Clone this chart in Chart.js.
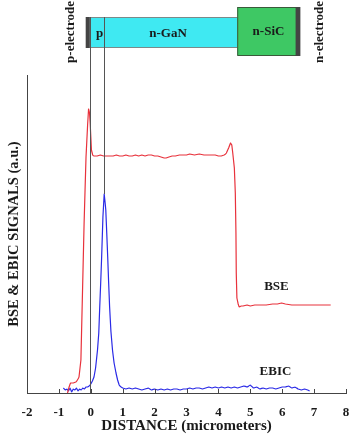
<!DOCTYPE html>
<html>
<head>
<meta charset="utf-8">
<script src="https://cdn.jsdelivr.net/npm/chart.js@4.4.0/dist/chart.umd.min.js"></script>
<style>
  html, body { margin: 0; padding: 0; background: #fff; }
  #chart { display: block; }
</style>
</head>
<body>
<canvas id="chart" width="350" height="435"></canvas>
<script>
// ── data (x in micrometers, y in arbitrary units) ──
const bseX = [-0.73, -0.68, -0.63, -0.55, -0.47, -0.42, -0.37, -0.31, -0.21, -0.15, -0.10, -0.07, -0.04, -0.02,
  0.02, 0.06, 0.10, 0.2, 0.3, 0.4, 0.5, 0.6, 0.7, 0.8, 0.9, 1.0, 1.1, 1.2, 1.3, 1.4, 1.5, 1.6, 1.7, 1.8, 1.9,
  2.0, 2.1, 2.2, 2.3, 2.36, 2.45, 2.55, 2.65, 2.78, 2.9, 3.0, 3.1, 3.25, 3.4, 3.55, 3.67, 3.8, 3.9, 4.0, 4.09,
  4.18, 4.25, 4.32, 4.38, 4.42, 4.45, 4.5, 4.53, 4.55, 4.56, 4.58, 4.62, 4.66, 4.72, 4.77, 4.9, 5.0, 5.14, 5.3,
  5.5, 5.7, 5.85, 5.98, 6.1, 6.3, 6.5, 6.7, 6.9, 7.1, 7.3, 7.52];
const bseY = [0, 6, 10, 10, 11, 13, 16, 33, 170, 236, 268, 284, 280, 270,
  243, 238, 237, 237, 238, 237, 237, 237, 237, 238, 237, 237, 238, 237, 237, 238, 237, 238, 237, 238, 238,
  237, 237, 236, 235, 235, 236, 237, 237, 238, 238, 238, 239, 238, 239, 238, 238, 238, 238, 237, 237,
  238, 240, 245, 250, 248, 240, 225, 200, 160, 120, 95, 89, 86, 87, 87, 88, 87, 88, 88,
  88, 89, 89, 90, 89, 88, 88, 88, 88, 88, 88, 88];

const ebicX = [-0.86, -0.8, -0.75, -0.7, -0.65, -0.6, -0.55, -0.5, -0.45, -0.4, -0.35, -0.3, -0.25, -0.2, -0.15,
  -0.1, -0.05, 0, 0.05, 0.1, 0.15, 0.21, 0.25, 0.28, 0.31, 0.34, 0.38, 0.42, 0.45, 0.47, 0.5, 0.53, 0.56, 0.59,
  0.63, 0.68, 0.73, 0.79, 0.84, 0.89, 0.95, 1.0,
  1.1, 1.2, 1.3, 1.4, 1.5, 1.6, 1.7, 1.8, 1.9, 2.0, 2.1, 2.2, 2.3, 2.4, 2.5, 2.6, 2.7, 2.8, 2.9, 3.0,
  3.1, 3.2, 3.3, 3.4, 3.5, 3.6, 3.7, 3.8, 3.9, 4.0, 4.1, 4.2, 4.3, 4.4, 4.5, 4.6, 4.7, 4.8, 4.9, 5.0,
  5.1, 5.2, 5.3, 5.4, 5.5, 5.6, 5.7, 5.8, 5.9, 6.0, 6.1, 6.2, 6.3, 6.4, 6.5, 6.6, 6.7, 6.8, 6.86];
const ebicY = [5, 3, 4, 2, 5, 1, 4, 3, 5, 2, 4, 3, 5, 4, 6,
  6, 7, 9, 12, 16, 25, 43, 60, 86, 110, 136, 176, 199, 190, 183, 160, 136, 110, 86,
  62, 43, 30, 20, 13, 8, 6, 5,
  4, 5, 4, 5, 4, 3, 4, 5, 3, 4, 3, 4, 3, 4, 3, 4, 4, 3, 4, 4,
  5, 4, 5, 5, 4, 5, 6, 5, 6, 5, 6, 5, 6, 5, 6, 5, 6, 7, 6, 8,
  5, 6, 4, 5, 4, 5, 5, 4, 5, 6, 6, 7, 5, 6, 4, 3, 4, 3, 2];

const xTicks = [-2, -1, 0, 1, 2, 3, 4, 5, 6, 7, 8];

// device layers drawn above the plot
const layerNames = ['p', 'n-GaN', 'n-SiC'];

const FONT = '"Liberation Serif", "Times New Roman", serif';

// ── overlay: inward ticks, device sketch, junction lines, curve labels ──
const overlay = {
  id: 'overlay',
  afterDraw(chart) {
    const { ctx, chartArea } = chart;
    const xs = chart.scales.x, ys = chart.scales.y;
    const X = v => xs.getPixelForValue(v);
    const Y = v => ys.getPixelForValue(v);
    ctx.save();

    // inward tick marks
    ctx.strokeStyle = '#444';
    ctx.lineWidth = 1;
    xTicks.forEach(t => {
      const px = Math.round(X(t)) + 0.5;
      ctx.beginPath();
      ctx.moveTo(px, chartArea.bottom);
      ctx.lineTo(px, chartArea.bottom - 4);
      ctx.stroke();
    });

    // n-GaN (cyan) box
    ctx.fillStyle = '#3fe9f2';
    ctx.strokeStyle = '#7a8a8a';
    ctx.fillRect(X(-0.03), 17, X(4.59) - X(-0.03), 30);
    ctx.strokeRect(X(-0.03) + 0.5, 17.5, X(4.59) - X(-0.03), 30);
    // n-SiC (green) box
    ctx.fillStyle = '#3ec864';
    ctx.strokeStyle = '#3a5a3a';
    ctx.fillRect(X(4.59), 7, X(6.45) - X(4.59), 48);
    ctx.strokeRect(X(4.59) + 0.5, 7.5, X(6.45) - X(4.59), 48);
    // electrodes
    ctx.fillStyle = '#444';
    ctx.fillRect(X(-0.16), 17, X(-0.03) - X(-0.16), 31);
    ctx.fillRect(X(6.42), 7, X(6.57) - X(6.42), 49);

    // junction lines
    const peakIdx = ebicY.indexOf(Math.max(...ebicY));
    ctx.strokeStyle = '#555';
    ctx.beginPath();
    ctx.moveTo(Math.round(X(-0.03)) + 0.5, 17);
    ctx.lineTo(Math.round(X(-0.03)) + 0.5, chartArea.bottom);
    ctx.moveTo(Math.round(X(ebicX[peakIdx])) + 0.5, 17);
    ctx.lineTo(Math.round(X(ebicX[peakIdx])) + 0.5, Y(ebicY[peakIdx]));
    ctx.stroke();

    // layer labels
    ctx.fillStyle = '#1a1a1a';
    ctx.font = 'bold 13px ' + FONT;
    ctx.textAlign = 'center';
    ctx.textBaseline = 'middle';
    ctx.fillText(layerNames[0], X(0.28), 34);
    ctx.fillText(layerNames[1], X(2.42), 34);
    ctx.fillText(layerNames[2], X(5.57), 32);

    // electrode labels (vertical)
    [['p-electrode', -0.63], ['n-electrode', 7.17]].forEach(([txt, xv]) => {
      ctx.save();
      ctx.translate(X(xv), 32);
      ctx.rotate(-Math.PI / 2);
      ctx.fillText(txt, 0, 0);
      ctx.restore();
    });

    // curve labels
    ctx.fillText('BSE', X(5.82), Y(106));
    ctx.fillText('EBIC', X(5.79), Y(21));

    ctx.restore();
  }
};

const toPoints = (xs, ys) => xs.map((x, i) => ({ x: x, y: ys[i] }));

// tiny tension keeps segments straight but avoids the per-pixel fast path (notches on steep drops)
new Chart(document.getElementById('chart'), {
  type: 'line',
  data: {
    datasets: [
      {
        label: 'BSE',
        data: toPoints(bseX, bseY),
        borderColor: '#e8323c',
        borderWidth: 1.2,
        borderJoinStyle: 'round',
        pointRadius: 0,
        tension: 0.01
      },
      {
        label: 'EBIC',
        data: toPoints(ebicX, ebicY),
        borderColor: '#2a2ae6',
        borderWidth: 1.2,
        borderJoinStyle: 'round',
        pointRadius: 0,
        tension: 0.01
      }
    ]
  },
  options: {
    responsive: false,
    animation: false,
    layout: { autoPadding: false, padding: { top: 75, right: 4, left: 0, bottom: 0 } },
    plugins: { legend: { display: false }, tooltip: { enabled: false } },
    scales: {
      x: {
        type: 'linear',
        min: -2,
        max: 8,
        afterBuildTicks: s => { s.ticks = xTicks.map(v => ({ value: v })); },
        // fixed height; drop the label overhang padding so the plot spans to the right edge
        afterFit: s => { s.height = 42; s.paddingLeft = 0; s.paddingRight = 0; },
        grid: { display: false, drawTicks: false },
        border: { display: true, color: '#444', width: 1 },
        ticks: {
          padding: 12,
          color: '#1a1a1a',
          font: { family: FONT, size: 13, weight: 'bold' }
        },
        title: {
          display: true,
          text: 'DISTANCE (micrometers)',
          color: '#1a1a1a',
          padding: { top: 0, bottom: 0 },
          font: { family: FONT, size: 15, weight: 'bold' }
        }
      },
      y: {
        min: 0,
        max: 318,
        afterFit: s => { s.width = 27; },
        grid: { display: false, drawTicks: false },
        border: { display: true, color: '#444', width: 1 },
        ticks: { display: false },
        title: {
          display: true,
          text: 'BSE & EBIC SIGNALS (a.u.)',
          color: '#1a1a1a',
          padding: { top: 6, bottom: 0 },
          font: { family: FONT, size: 14.5, weight: 'bold' }
        }
      }
    }
  },
  plugins: [overlay]
});
</script>
</body>
</html>
